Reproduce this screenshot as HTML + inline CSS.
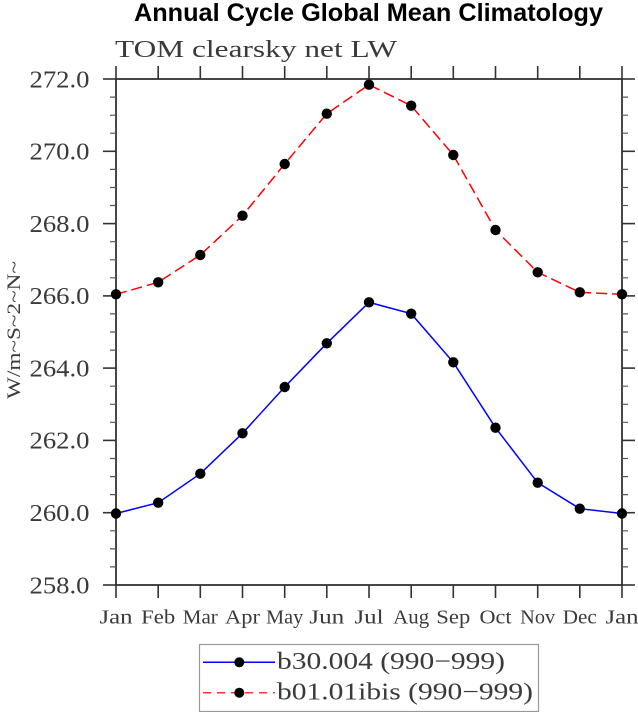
<!DOCTYPE html>
<html>
<head>
<meta charset="utf-8">
<style>
  html, body { margin: 0; padding: 0; background: #ffffff; }
  svg { display: block; }
  .ser { font-family: "Liberation Serif", "DejaVu Serif", serif; fill: #3a3a3a; }
</style>
</head>
<body>
<svg width="638" height="712" viewBox="0 0 638 712" xmlns="http://www.w3.org/2000/svg">
  <rect x="0" y="0" width="638" height="712" fill="#ffffff"/>

  <!-- Title -->
  <text x="368.5" y="21" text-anchor="middle" font-family="Liberation Sans, Arial, sans-serif" font-weight="bold" font-size="25" fill="#000" textLength="469" lengthAdjust="spacingAndGlyphs">Annual Cycle Global Mean Climatology</text>

  <!-- Subtitle -->
  <text class="ser" x="115" y="57" font-size="24" textLength="282" lengthAdjust="spacingAndGlyphs">TOM clearsky net LW</text>

  <!-- Y axis label -->
  <text class="ser" transform="translate(20,330) rotate(-90)" text-anchor="middle" font-size="19" textLength="138" lengthAdjust="spacingAndGlyphs">W/m~S~2~N~</text>

  <!-- Plot frame -->
  <g stroke="#333" stroke-width="1.8" fill="none">
    <rect x="116" y="79" width="506" height="506"/>
  </g>

  <!-- X ticks (outward, top and bottom) -->
  <g stroke="#333" stroke-width="1.6">
    <line x1="116" y1="585" x2="116" y2="598"/><line x1="116" y1="79" x2="116" y2="66"/>
    <line x1="158.2" y1="585" x2="158.2" y2="598"/><line x1="158.2" y1="79" x2="158.2" y2="66"/>
    <line x1="200.3" y1="585" x2="200.3" y2="598"/><line x1="200.3" y1="79" x2="200.3" y2="66"/>
    <line x1="242.5" y1="585" x2="242.5" y2="598"/><line x1="242.5" y1="79" x2="242.5" y2="66"/>
    <line x1="284.7" y1="585" x2="284.7" y2="598"/><line x1="284.7" y1="79" x2="284.7" y2="66"/>
    <line x1="326.8" y1="585" x2="326.8" y2="598"/><line x1="326.8" y1="79" x2="326.8" y2="66"/>
    <line x1="369" y1="585" x2="369" y2="598"/><line x1="369" y1="79" x2="369" y2="66"/>
    <line x1="411.2" y1="585" x2="411.2" y2="598"/><line x1="411.2" y1="79" x2="411.2" y2="66"/>
    <line x1="453.3" y1="585" x2="453.3" y2="598"/><line x1="453.3" y1="79" x2="453.3" y2="66"/>
    <line x1="495.5" y1="585" x2="495.5" y2="598"/><line x1="495.5" y1="79" x2="495.5" y2="66"/>
    <line x1="537.7" y1="585" x2="537.7" y2="598"/><line x1="537.7" y1="79" x2="537.7" y2="66"/>
    <line x1="579.8" y1="585" x2="579.8" y2="598"/><line x1="579.8" y1="79" x2="579.8" y2="66"/>
    <line x1="622" y1="585" x2="622" y2="598"/><line x1="622" y1="79" x2="622" y2="66"/>
  </g>

  <!-- Y major ticks (outward, left and right) -->
  <g stroke="#333" stroke-width="1.6">
    <line x1="103" y1="79" x2="116" y2="79"/><line x1="622" y1="79" x2="635" y2="79"/>
    <line x1="103" y1="151.3" x2="116" y2="151.3"/><line x1="622" y1="151.3" x2="635" y2="151.3"/>
    <line x1="103" y1="223.6" x2="116" y2="223.6"/><line x1="622" y1="223.6" x2="635" y2="223.6"/>
    <line x1="103" y1="295.9" x2="116" y2="295.9"/><line x1="622" y1="295.9" x2="635" y2="295.9"/>
    <line x1="103" y1="368.1" x2="116" y2="368.1"/><line x1="622" y1="368.1" x2="635" y2="368.1"/>
    <line x1="103" y1="440.4" x2="116" y2="440.4"/><line x1="622" y1="440.4" x2="635" y2="440.4"/>
    <line x1="103" y1="512.7" x2="116" y2="512.7"/><line x1="622" y1="512.7" x2="635" y2="512.7"/>
    <line x1="103" y1="585" x2="116" y2="585"/><line x1="622" y1="585" x2="635" y2="585"/>
  </g>

  <!-- Y minor ticks -->
  <g stroke="#555" stroke-width="1.2">
    <path d="M110 97.1H116M110 115.2H116M110 133.2H116
             M110 169.4H116M110 187.5H116M110 205.5H116
             M110 241.7H116M110 259.8H116M110 277.8H116
             M110 313.9H116M110 332H116M110 350.1H116
             M110 386.2H116M110 404.3H116M110 422.3H116
             M110 458.5H116M110 476.6H116M110 494.6H116
             M110 530.8H116M110 548.9H116M110 566.9H116"/>
    <path d="M622 97.1H628M622 115.2H628M622 133.2H628
             M622 169.4H628M622 187.5H628M622 205.5H628
             M622 241.7H628M622 259.8H628M622 277.8H628
             M622 313.9H628M622 332H628M622 350.1H628
             M622 386.2H628M622 404.3H628M622 422.3H628
             M622 458.5H628M622 476.6H628M622 494.6H628
             M622 530.8H628M622 548.9H628M622 566.9H628"/>
  </g>

  <!-- Y tick labels -->
  <g class="ser" font-size="24" text-anchor="end">
    <text x="89.5" y="87.3" textLength="60" lengthAdjust="spacingAndGlyphs">272.0</text>
    <text x="89.5" y="159.6" textLength="60" lengthAdjust="spacingAndGlyphs">270.0</text>
    <text x="89.5" y="231.9" textLength="60" lengthAdjust="spacingAndGlyphs">268.0</text>
    <text x="89.5" y="304.2" textLength="60" lengthAdjust="spacingAndGlyphs">266.0</text>
    <text x="89.5" y="376.4" textLength="60" lengthAdjust="spacingAndGlyphs">264.0</text>
    <text x="89.5" y="448.7" textLength="60" lengthAdjust="spacingAndGlyphs">262.0</text>
    <text x="89.5" y="521" textLength="60" lengthAdjust="spacingAndGlyphs">260.0</text>
    <text x="89.5" y="593.3" textLength="60" lengthAdjust="spacingAndGlyphs">258.0</text>
  </g>

  <!-- X tick labels -->
  <g class="ser" font-size="20" text-anchor="middle">
    <text x="116" y="623.5" textLength="33" lengthAdjust="spacingAndGlyphs">Jan</text>
    <text x="158.2" y="623.5" textLength="34" lengthAdjust="spacingAndGlyphs">Feb</text>
    <text x="200.3" y="623.5" textLength="35" lengthAdjust="spacingAndGlyphs">Mar</text>
    <text x="242.5" y="623.5" textLength="35" lengthAdjust="spacingAndGlyphs">Apr</text>
    <text x="284.7" y="623.5" textLength="37" lengthAdjust="spacingAndGlyphs">May</text>
    <text x="326.8" y="623.5" textLength="35" lengthAdjust="spacingAndGlyphs">Jun</text>
    <text x="369" y="623.5" textLength="29" lengthAdjust="spacingAndGlyphs">Jul</text>
    <text x="411.2" y="623.5" textLength="36" lengthAdjust="spacingAndGlyphs">Aug</text>
    <text x="453.3" y="623.5" textLength="34" lengthAdjust="spacingAndGlyphs">Sep</text>
    <text x="495.5" y="623.5" textLength="32" lengthAdjust="spacingAndGlyphs">Oct</text>
    <text x="537.7" y="623.5" textLength="35" lengthAdjust="spacingAndGlyphs">Nov</text>
    <text x="579.8" y="623.5" textLength="34" lengthAdjust="spacingAndGlyphs">Dec</text>
    <text x="622" y="623.5" textLength="33" lengthAdjust="spacingAndGlyphs">Jan</text>
  </g>

  <!-- Red dashed series (b01.01ibis) -->
  <polyline fill="none" stroke="#ff0000" stroke-width="1.5" stroke-dasharray="11 5"
    points="116,294.3 158.2,282.3 200.3,255 242.5,215.7 284.7,164 326.8,113.7 369,84.7 411.2,105.7 453.3,155 495.5,230 537.7,272.3 579.8,292.3 622,294.3"/>

  <!-- Blue solid series (b30.004) -->
  <polyline fill="none" stroke="#0000ff" stroke-width="1.5"
    points="116,513.5 158.2,502.7 200.3,473.7 242.5,433.3 284.7,387 326.8,343.3 369,302.3 411.2,313.7 453.3,362.3 495.5,427.7 537.7,482.7 579.8,508.7 622,513.5"/>

  <!-- Markers -->
  <g fill="#000">
    <circle cx="116" cy="294.3" r="5.2"/><circle cx="158.2" cy="282.3" r="5.2"/>
    <circle cx="200.3" cy="255" r="5.2"/><circle cx="242.5" cy="215.7" r="5.2"/>
    <circle cx="284.7" cy="164" r="5.2"/><circle cx="326.8" cy="113.7" r="5.2"/>
    <circle cx="369" cy="84.7" r="5.2"/><circle cx="411.2" cy="105.7" r="5.2"/>
    <circle cx="453.3" cy="155" r="5.2"/><circle cx="495.5" cy="230" r="5.2"/>
    <circle cx="537.7" cy="272.3" r="5.2"/><circle cx="579.8" cy="292.3" r="5.2"/>
    <circle cx="622" cy="294.3" r="5.2"/>

    <circle cx="116" cy="513.5" r="5.2"/><circle cx="158.2" cy="502.7" r="5.2"/>
    <circle cx="200.3" cy="473.7" r="5.2"/><circle cx="242.5" cy="433.3" r="5.2"/>
    <circle cx="284.7" cy="387" r="5.2"/><circle cx="326.8" cy="343.3" r="5.2"/>
    <circle cx="369" cy="302.3" r="5.2"/><circle cx="411.2" cy="313.7" r="5.2"/>
    <circle cx="453.3" cy="362.3" r="5.2"/><circle cx="495.5" cy="427.7" r="5.2"/>
    <circle cx="537.7" cy="482.7" r="5.2"/><circle cx="579.8" cy="508.7" r="5.2"/>
    <circle cx="622" cy="513.5" r="5.2"/>
  </g>

  <!-- Legend -->
  <rect x="199.5" y="644.5" width="339" height="67" fill="#fff" stroke="#999" stroke-width="1.2"/>
  <line x1="203" y1="662.3" x2="275" y2="662.3" stroke="#0000ff" stroke-width="1.5"/>
  <circle cx="239.3" cy="662.3" r="5" fill="#000"/>
  <line x1="203" y1="692.7" x2="275" y2="692.7" stroke="#ff3333" stroke-width="1.5" stroke-dasharray="8.3 5.7"/>
  <circle cx="239.3" cy="692.7" r="5" fill="#000"/>
  <text class="ser" x="277" y="669" font-size="24" textLength="228" lengthAdjust="spacingAndGlyphs">b30.004 (990−999)</text>
  <text class="ser" x="277" y="699.3" font-size="24" textLength="256" lengthAdjust="spacingAndGlyphs">b01.01ibis (990−999)</text>
</svg>
</body>
</html>
